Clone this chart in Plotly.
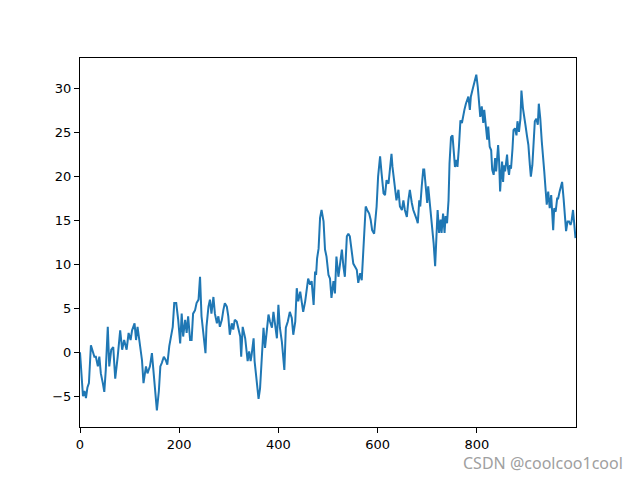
import plotly.graph_objects as go

# random-walk values, piece by piece
steps_a = [0, 3, 6, 9, 12, 15, 18, 22, 26, 29, 32, 36, 39, 42, 46, 49, 52, 56, 59, 63,
           67, 71, 76, 81, 85, 89, 94, 98, 102, 105, 110, 113, 116, 121, 125, 128, 133, 136, 141, 145,
           149, 152, 155, 159, 162]
vals_a = [0.0, -2.5, -5.0, -4.4, -5.2, -4.0, -3.5, 0.8, 0.1, -0.5, -0.5, -1.6, -0.5, -2.4, -3.5, -4.5, -2.0, 2.9, -1.6, 0.3,
          0.6, -3.0, -0.5, 2.5, 0.3, 1.4, 0.3, 2.2, 1.4, 2.5, 3.3, 1.4, 2.9, 0.6, -0.9, -3.5, -1.6, -2.4, -1.6, -0.1,
          -2.8, -4.3, -6.6, -4.4, -1.6]

steps_b = [165, 169, 173, 176, 180, 183, 187, 190, 194, 198, 202, 205, 208, 212, 215, 218, 222, 225, 228, 232,
           235, 239, 242, 245, 249, 253, 255, 259, 262, 265, 269, 272, 276, 279, 282, 286, 289, 292, 296, 299,
           302, 306, 309, 312, 316, 319, 323, 325, 328]
vals_b = [-1.2, -0.5, -0.9, -1.4, 0.7, 1.8, 2.9, 5.6, 5.6, 3.7, 1.0, 4.4, 1.8, 3.7, 2.2, 4.1, 1.4, 1.4, 4.4, 4.8,
          5.6, 6.0, 8.6, 4.1, 1.8, -0.1, 2.9, 5.2, 6.0, 4.4, 6.3, 4.4, 3.3, 4.1, 2.9, 3.7, 4.8, 5.6, 5.2, 4.1,
          2.0, 3.3, 2.6, 3.7, 3.5, 2.9, 1.8, -0.5, 2.9]

steps_c = [333, 336, 338, 341, 344, 346, 350, 352, 354, 357, 360, 363, 366, 370, 373, 376, 380, 383, 387, 390,
           393, 397, 400, 403, 407, 410, 412, 415, 419, 423, 427, 430, 434, 437, 440, 444, 447, 450, 454, 457,
           460, 464, 467, 471, 474, 476, 478, 481, 484, 487, 491, 494, 497, 501, 504, 507, 511]
vals_c = [1.6, 0.1, -1.0, 0.1, -1.0, -0.3, 1.6, -1.0, -2.2, -3.7, -5.3, -4.1, -0.7, 2.8, 0.5, 2.4, 4.3, 3.5, 2.8, 4.6,
          3.1, 1.6, 5.4, 2.8, 1.2, -0.3, -2.0, 2.8, 3.5, 4.6, 3.9, 2.0, 3.5, 7.3, 5.8, 6.9, 5.4, 4.6, 5.8, 6.9,
          8.4, 7.7, 8.1, 5.4, 9.2, 8.8, 10.7, 11.8, 15.3, 16.2, 14.9, 11.7, 10.9, 8.8, 8.4, 6.2, 8.1]

steps_d = [514, 517, 521, 524, 528, 531, 534, 538, 541, 544, 548, 551, 554, 558, 561, 565, 568, 571, 573, 576,
           579, 583, 586, 589, 593, 596, 598, 601, 605, 608, 612, 615, 618, 622, 625, 628, 630, 633, 636, 638,
           642, 645, 649, 652, 655, 659, 662, 665, 669, 672]
vals_d = [6.7, 10.9, 8.6, 9.8, 11.7, 9.8, 8.6, 13.2, 13.5, 13.2, 11.7, 10.1, 9.8, 9.4, 7.9, 9.0, 8.2, 11.3, 13.5, 16.6,
          16.2, 15.8, 15.1, 13.9, 13.5, 15.4, 16.6, 20.0, 22.3, 20.4, 18.1, 17.9, 19.6, 19.2, 20.7, 22.6, 21.1, 19.6, 18.1, 17.3,
          18.5, 16.6, 16.2, 17.3, 16.2, 15.4, 17.3, 18.5, 17.0, 16.2]

steps_e = [679, 681, 684, 686, 689, 692, 694, 697, 700, 702, 705, 708, 710, 713, 716, 718, 721, 724, 727, 729,
           732, 735, 737, 740, 743, 745, 748, 751, 753, 756, 759, 761, 764, 767, 770, 772, 775, 778, 780, 783,
           786, 788, 791, 794, 796, 799, 802, 804, 807, 810, 813, 815, 818, 821, 823, 826, 829, 831, 834]
vals_e = [15.1, 14.7, 17.3, 16.6, 18.9, 20.8, 20.8, 18.5, 17.0, 18.9, 17.0, 15.1, 14.7, 12.4, 9.8, 12.0, 16.2, 13.6, 15.1, 13.6,
          15.8, 13.6, 15.5, 14.7, 17.3, 21.5, 24.5, 24.7, 23.4, 21.1, 21.9, 21.1, 23.4, 26.4, 26.1, 26.8, 27.6, 28.3, 28.7, 29.1,
          27.6, 29.1, 29.8, 30.6, 31.0, 31.6, 30.2, 28.7, 26.8, 28.0, 26.1, 27.6, 25.7, 24.2, 25.7, 23.4, 23.0, 20.8, 20.2]

steps_f = [837, 839, 841, 843, 845, 847, 849, 851, 853, 855, 857, 859, 861, 863, 865, 867, 869, 872, 874, 877,
           880, 882, 885, 888, 890, 893, 896, 898, 901, 904, 907, 909, 912, 915, 917, 920, 923, 925, 928, 931,
           933, 936, 939, 941, 944, 947, 950, 952, 954, 956, 959, 962, 964, 967, 970, 972, 975, 978, 980, 983,
           986, 989, 991, 994, 997, 999]
vals_f = [22.1, 20.6, 22.5, 23.6, 21.7, 18.3, 20.2, 21.7, 19.4, 21.3, 20.6, 22.1, 22.5, 20.9, 20.2, 21.3, 20.9, 23.2, 25.3, 25.5,
          24.7, 26.3, 25.1, 26.6, 29.8, 27.8, 26.3, 25.9, 24.7, 23.6, 21.3, 20.0, 21.3, 24.4, 26.3, 26.6, 25.9, 28.3, 26.6, 24.0,
          22.1, 20.6, 18.3, 16.8, 18.3, 16.4, 17.9, 15.6, 13.9, 16.4, 16.0, 17.5, 17.5, 18.3, 19.1, 19.4, 17.5, 15.3, 13.8, 14.9,
          14.9, 14.5, 14.9, 16.2, 14.5, 13.0]

x = steps_a + steps_b + steps_c + steps_d + steps_e + steps_f
y = vals_a + vals_b + vals_c + vals_d + vals_e + vals_f

fig = go.Figure(go.Scatter(x=x, y=y, mode='lines',
                           line=dict(color='#1f77b4', width=2)))

axis_style = dict(showgrid=False, zeroline=False, showline=True, mirror=True,
                  linecolor='black', linewidth=1, ticks='outside', ticklen=5,
                  tickcolor='black', tickfont=dict(size=13, color='black'))

# page body has an 8px margin, so the figure is drawn 8px smaller
fig.update_layout(
    width=632, height=472,
    paper_bgcolor='white', plot_bgcolor='white',
    font=dict(family='DejaVu Sans', color='black'),
    showlegend=False,
    margin=dict(l=72, r=64, t=50, b=53),
    xaxis=dict(range=[0, 1000], tickvals=[0, 200, 400, 600, 800], **axis_style),
    yaxis=dict(range=[-8.5, 33.5], tickvals=[-5, 0, 5, 10, 15, 20, 25, 30], **axis_style),
)

fig.add_annotation(xref='paper', yref='paper', x=1.099, y=-0.098,
                   xanchor='right', yanchor='middle', showarrow=False,
                   text='CSDN @coolcoo1cool',
                   font=dict(family='Noto Sans', size=16, color='#a0a0a0'))

fig.write_html("out.html")
